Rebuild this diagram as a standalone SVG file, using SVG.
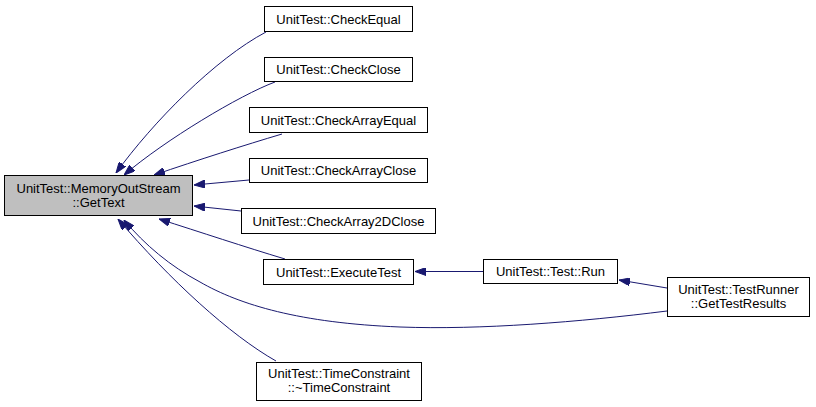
<svg xmlns="http://www.w3.org/2000/svg" width="816" height="407" viewBox="0 0 816 407">
<style>
.n rect{fill:#fff;stroke:#000;stroke-width:1}
.n text{font-family:"Liberation Sans",Arial,sans-serif;font-size:13px;text-anchor:middle;fill:#000}
#main rect{fill:#bfbfbf}
.e path{fill:none;stroke:#191970;stroke-width:1;marker-end:url(#arr)}
</style>
<defs>
<marker id="arr" markerUnits="userSpaceOnUse" viewBox="0 0 11 8" refX="11" refY="4" markerWidth="11" markerHeight="8" orient="auto">
<path d="M0,0 L11,4 L0,8 z" fill="#191970" stroke="#191970" stroke-width="1"/>
</marker>
</defs>
<g class="e" id="edges">
<path d="M266,32 C215,59 153,122 116,173"/>
<path d="M275,82 C240,95 165,140 124,175"/>
<path d="M282,134 C245,145 198,160 154,175"/>
<path d="M249,180 L194,185"/>
<path d="M241,211 L194,206"/>
<path d="M285,259 C245,247 200,232 159,219"/>
<path d="M667,311 C580,322 480,330 400,327 C300,323 240,305 200,282 C170,266 145,245 124,220"/>
<path d="M276,361 C230,335 170,280 118,219"/>
<path d="M483,271.5 L415,271.5"/>
<path d="M667,288 L619,280"/>
</g>
<g class="n" id="main"><rect x="4.5" y="175.5" width="188" height="40"/><text x="98.5" y="192.5">UnitTest::MemoryOutStream</text><text x="98.5" y="206.5">::GetText</text></g>
<g class="n" id="checkEqual"><rect x="264.5" y="6.5" width="148" height="25"/><text x="338.5" y="23.5">UnitTest::CheckEqual</text></g>
<g class="n" id="checkClose"><rect x="264.5" y="57.5" width="148" height="24"/><text x="338.5" y="74">UnitTest::CheckClose</text></g>
<g class="n" id="checkArrayEqual"><rect x="249.5" y="107.5" width="178" height="25"/><text x="338.5" y="124.5">UnitTest::CheckArrayEqual</text></g>
<g class="n" id="checkArrayClose"><rect x="249.5" y="158.5" width="178" height="24"/><text x="338.5" y="175">UnitTest::CheckArrayClose</text></g>
<g class="n" id="checkArray2DClose"><rect x="241.5" y="208.5" width="194" height="25"/><text x="338.5" y="225.5">UnitTest::CheckArray2DClose</text></g>
<g class="n" id="executeTest"><rect x="263.5" y="259.5" width="150" height="25"/><text x="338.5" y="276.5">UnitTest::ExecuteTest</text></g>
<g class="n" id="timeConstraint"><rect x="256.5" y="362.5" width="165" height="38"/><text x="339" y="377.5">UnitTest::TimeConstraint</text><text x="339" y="391.5">::~TimeConstraint</text></g>
<g class="n" id="testRun"><rect x="483.5" y="259.5" width="134" height="24"/><text x="550.5" y="276">UnitTest::Test::Run</text></g>
<g class="n" id="testRunner"><rect x="667.5" y="277.5" width="142" height="39"/><text x="738.5" y="293.5">UnitTest::TestRunner</text><text x="738.5" y="307.5">::GetTestResults</text></g>
</svg>
